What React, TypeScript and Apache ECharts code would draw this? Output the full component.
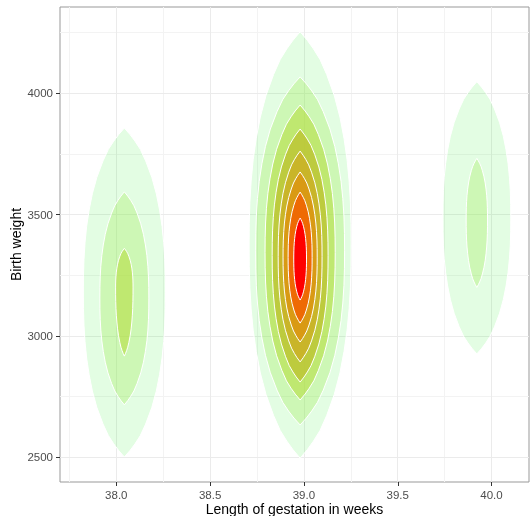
import React, { useEffect, useRef } from "react";
import * as echarts from "echarts";

// ---- data ----
// contour polygons: one entry per filled density level
const contourCenterX = [38.043, 38.043, 38.043, 38.98, 38.98, 38.98, 38.98, 38.98, 38.98, 38.98, 38.98, 39.922, 39.922];
const contourLevel = [1, 2, 3, 1, 2, 3, 4, 5, 6, 7, 8, 1, 2];
const contourTop = [3857, 3594, 3361, 4254, 4068, 3952, 3853, 3762, 3676, 3593, 3486, 4048, 3732];
const contourBottom = [2501, 2716, 2917, 2496, 2633, 2736, 2810, 2893, 2975, 3053, 3148, 2926, 3200];
const contourWidestY = [3181, 3156, 3198, 3375, 3351, 3344, 3332, 3327, 3325, 3323, 3317, 3486, 3478];
const contourHalfWidth = [0.2185, 0.1306, 0.0464, 0.272, 0.237, 0.187, 0.149, 0.117, 0.091, 0.064, 0.034, 0.181, 0.057];
// outline profile of a contour half, from its tip (0) to its widest point (1)
const profileT = [0, 0.04, 0.08, 0.13, 0.2, 0.3, 0.4, 0.5, 0.6, 0.7, 0.8, 0.9, 1];
const profileW = [0, 0.14, 0.26, 0.39, 0.52, 0.67, 0.78, 0.86, 0.92, 0.96, 0.985, 0.997, 1];

const xTickValues = [38, 38.5, 39, 39.5, 40];
const xTickLabels = ["38.0", "38.5", "39.0", "39.5", "40.0"];
const xMinorValues = [37.75, 38.25, 38.75, 39.25, 39.75];
const yTickValues = [2500, 3000, 3500, 4000];
const yMinorValues = [2750, 3250, 3750, 4250];
const X_MIN = 37.7;
const X_MAX = 40.2;
const Y_MIN = 2398;
const Y_MAX = 4356;

// ---- styles ----
const FONT = "'Liberation Sans', Arial, sans-serif";
const LEVEL_TARGET = ["#E3FDE3", "#CCF7B4", "#BEE870", "#BDCB3E", "#C9B52A", "#D89A14", "#EE6A05", "#FF0000"];
const LEVEL_ALPHA = [0.11, 0.4, 0.6, 0.7, 0.75, 0.8, 0.85, 1];

function hexToRgb(h: string) {
  return [parseInt(h.slice(1, 3), 16), parseInt(h.slice(3, 5), 16), parseInt(h.slice(5, 7), 16)];
}
const levelFill = LEVEL_TARGET.map((t, k) => {
  const a = LEVEL_ALPHA[k];
  const tc = hexToRgb(t);
  const pc = k === 0 ? [255, 255, 255] : hexToRgb(LEVEL_TARGET[k - 1]);
  const c = tc.map((v, j) => Math.max(0, Math.min(255, Math.round((v - (1 - a) * pc[j]) / a))));
  return `rgba(${c[0]},${c[1]},${c[2]},${a})`;
});

export default function App() {
  const ref = useRef<HTMLDivElement>(null);
  useEffect(() => {
    if (!ref.current) return;
    const chart = echarts.init(ref.current, null, { renderer: "svg" });
    const contourData = contourCenterX.map((cx, i) => [
      cx,
      contourTop[i],
      contourBottom[i],
      contourWidestY[i],
      contourHalfWidth[i],
      contourLevel[i],
    ]);
    const gridMark = (vals: number[], axis: "xAxis" | "yAxis", color: string) =>
      vals.map((v) => ({ [axis]: v, lineStyle: { color, width: 1, type: "solid" } }));

    chart.setOption({
      animation: false,
      grid: {
        left: 60,
        top: 7,
        right: 1,
        bottom: 34,
        show: true,
        borderColor: "#999999",
        borderWidth: 1,
        backgroundColor: "transparent",
        containLabel: false,
        outerBoundsMode: "none",
      },
      xAxis: {
        type: "value",
        position: "bottom",
        min: X_MIN,
        max: X_MAX,
        axisLine: { show: false, onZero: false },
        axisTick: { show: false },
        axisLabel: { show: false },
        splitLine: { show: false },
      },
      yAxis: {
        type: "value",
        position: "left",
        min: Y_MIN,
        max: Y_MAX,
        axisLine: { show: false, onZero: false },
        axisTick: { show: true, inside: false, customValues: yTickValues, length: 4, lineStyle: { color: "#333333" } },
        axisLabel: {
          inside: false,
          customValues: yTickValues,
          formatter: (v: number) => String(v),
          color: "#4D4D4D",
          fontSize: 11.5,
          margin: 7,
          fontFamily: FONT,
        },
        splitLine: { show: false },
        name: "Birth weight",
        nameLocation: "middle",
        nameRotate: 90,
        nameGap: 37,
        nameMoveOverlap: false,
        nameTextStyle: { fontSize: 14, color: "#000000", fontFamily: FONT },
      },
      series: [
        {
          type: "scatter",
          data: [],
          z: 1,
          silent: true,
          markLine: {
            silent: true,
            z: 1,
            symbol: "none",
            label: { show: false },
            animation: false,
            data: [
              ...gridMark(xMinorValues, "xAxis", "#F3F3F3"),
              ...gridMark(yMinorValues, "yAxis", "#F3F3F3"),
              ...gridMark(xTickValues, "xAxis", "#EBEBEB"),
              ...gridMark(yTickValues, "yAxis", "#EBEBEB"),
            ],
          },
        },
        {
          type: "custom",
          z: 3,
          silent: true,
          data: contourData,
          encode: { x: 0, y: 1 },
          renderItem: (params: any, api: any) => {
            const cx = api.value(0);
            const top = api.value(1);
            const bottom = api.value(2);
            const mid = api.value(3);
            const hw = api.value(4);
            const lvl = api.value(5);
            const n = profileT.length;
            const pts: number[][] = [];
            // right side: top tip -> widest -> bottom tip
            for (let k = 0; k < n; k++) pts.push(api.coord([cx + profileW[k] * hw, top - profileT[k] * (top - mid)]));
            for (let k = n - 2; k >= 0; k--) pts.push(api.coord([cx + profileW[k] * hw, bottom + profileT[k] * (mid - bottom)]));
            // left side: bottom tip -> widest -> top tip
            for (let k = 1; k < n; k++) pts.push(api.coord([cx - profileW[k] * hw, bottom + profileT[k] * (mid - bottom)]));
            for (let k = n - 2; k >= 1; k--) pts.push(api.coord([cx - profileW[k] * hw, top - profileT[k] * (top - mid)]));
            return {
              type: "polygon",
              shape: { points: pts },
              style: { fill: levelFill[lvl - 1], stroke: "#FFFFFF", lineWidth: 1 },
            };
          },
        },
      ],
    });

    // x axis ticks, tick labels and title, placed through the axis scale
    const axisY = chart.convertToPixel({ yAxisIndex: 0 }, Y_MIN) as number;
    const leftPx = chart.convertToPixel({ xAxisIndex: 0 }, X_MIN) as number;
    const rightPx = chart.convertToPixel({ xAxisIndex: 0 }, X_MAX) as number;
    const graphics: any[] = [];
    xTickValues.forEach((v, i) => {
      const px = chart.convertToPixel({ xAxisIndex: 0 }, v) as number;
      const xr = Math.round(px) + 0.5;
      graphics.push({
        type: "line",
        silent: true,
        shape: { x1: xr, y1: axisY, x2: xr, y2: axisY + 4 },
        style: { stroke: "#333333", lineWidth: 1 },
      });
      graphics.push({
        type: "text",
        silent: true,
        x: px,
        y: axisY + 6.5,
        style: {
          text: xTickLabels[i],
          fill: "#4D4D4D",
          font: `11.5px ${FONT}`,
          align: "center",
          verticalAlign: "top",
          textAlign: "center",
          textVerticalAlign: "top",
        },
      });
    });
    graphics.push({
      type: "text",
      silent: true,
      x: (leftPx + rightPx) / 2,
      y: axisY + 20,
      style: {
        text: "Length of gestation in weeks",
        fill: "#000000",
        font: `14px ${FONT}`,
        align: "center",
        verticalAlign: "top",
        textAlign: "center",
        textVerticalAlign: "top",
      },
    });
    chart.setOption({ graphic: graphics });

    return () => chart.dispose();
  }, []);
  return <div ref={ref} style={{ position: "fixed", left: 0, top: 0, width: 530, height: 516 }} />;
}
